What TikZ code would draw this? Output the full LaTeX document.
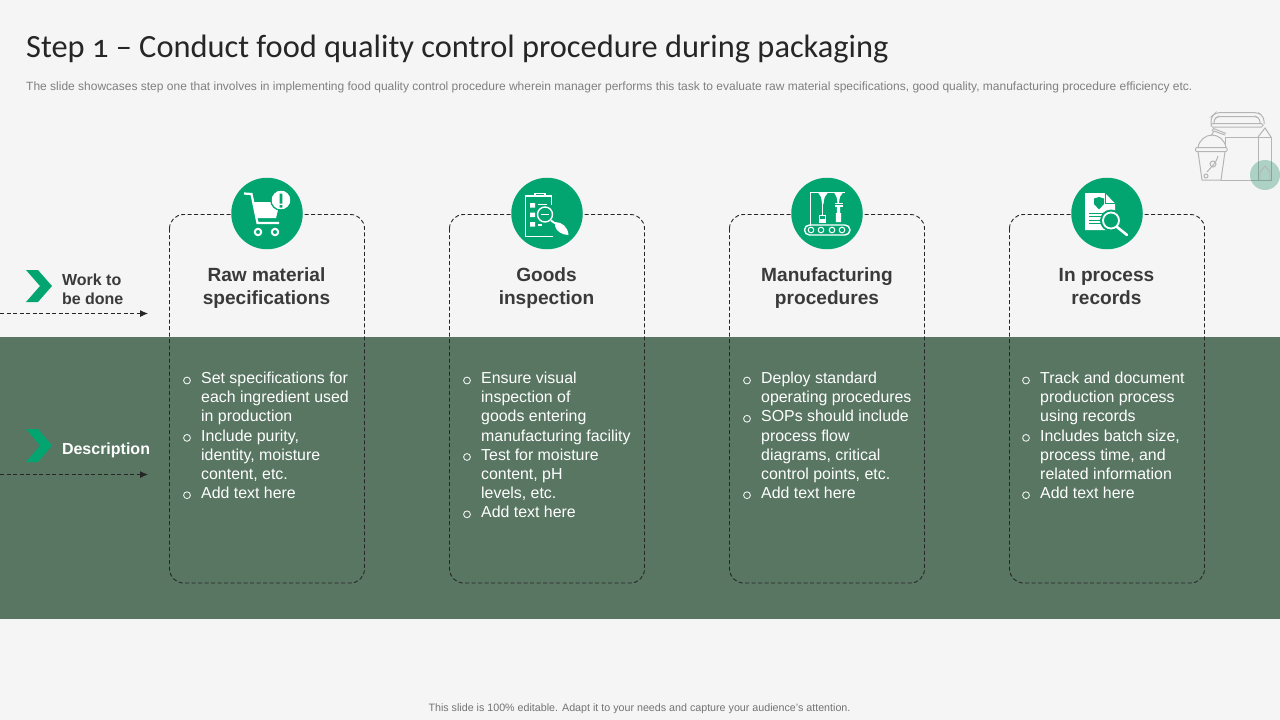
\documentclass[tikz,border=0pt]{standalone}
\usepackage{fontspec}
\setmainfont{Liberation Sans}
\newfontfamily\titlefont[Numbers=OldStyle]{Carlito}
\usetikzlibrary{arrows.meta}
\definecolor{paper}{HTML}{F5F5F5}
\definecolor{band}{HTML}{587662}
\definecolor{leaf}{HTML}{02A56F}
\definecolor{ink}{HTML}{3A3A3A}
\definecolor{sketch}{HTML}{B4B6B4}
\tikzset{
	panel/.style={draw=black!85, dash pattern=on 4pt off 2.5pt, line width=0.9pt, rounded corners=14pt},
	disc/.style={circle, fill=leaf, minimum size=71.5pt, inner sep=0pt},
	head/.style={anchor=north, align=center, text=ink, font=\fontsize{19.1}{23}\selectfont\bfseries},
	body/.style={anchor=north west, align=left, inner sep=0pt, text=white, font=\fontsize{15.9}{19.12}\selectfont},
	side/.style={anchor=west, align=left, font=\fontsize{16}{19}\selectfont\bfseries},
	flow/.style={draw=black!85, dash pattern=on 4pt off 2.5pt, line width=0.9pt, -{Latex[length=8pt,width=7pt]}},
	chev/.style={fill=leaf, draw=none},
	icon/.style={draw=white, line width=1.4pt, fill=none}
}
\begin{document}
\begin{tikzpicture}[x=1pt,y=-1pt]
	\useasboundingbox (0,0) rectangle (1280,720);
	\fill[paper] (0,0) rectangle (1280,720);
	\fill[band] (0,337) rectangle (1280,619);

	% heading
	\node[anchor=west, inner sep=0pt, text=black!85, font=\titlefont\fontsize{32.4}{38}\selectfont] (title) at (26,49) {Step 1 – Conduct food quality control procedure during packaging};
	\node[anchor=west, inner sep=0pt, text=black!50, font=\fontsize{12}{14}\selectfont] (subtitle) at (26,87.5) {The slide showcases step one that involves in implementing food quality control procedure wherein manager performs this task to evaluate raw material specifications, good quality, manufacturing procedure efficiency etc.};
	\node[text=black!55, font=\fontsize{10.7}{12}\selectfont] (foot) at (639.5,708.5) {This slide is 100\% editable. Adapt it to your needs and capture your audience's attention.};

	% side labels
	\fill[chev] (26,270) -- (38,270) -- (52,286) -- (38,302) -- (26,302) -- (40,286) -- cycle;
	\fill[chev] (26,429) -- (38,429) -- (52,445.5) -- (38,462) -- (26,462) -- (40,445.5) -- cycle;
	\node[side, text=ink] (work) at (58.5,289) {Work to\\be done};
	\node[side, text=white] (desc) at (58.5,450) {Description};
	\coordinate (workl) at (0,313.5);
	\coordinate (workr) at (148,313.5);
	\coordinate (descl) at (0,474.5);
	\coordinate (descr) at (148,474.5);
	\draw[flow] (workl) -- (workr);
	\draw[flow] (descl) -- (descr);

	% panels
	\draw[panel] (169.5,214.5) rectangle (364.5,583);
	\draw[panel] (449.5,214.5) rectangle (644.5,583);
	\draw[panel] (729.5,214.5) rectangle (924.5,583);
	\draw[panel] (1009.5,214.5) rectangle (1204.5,583);

	\node[disc] (rawdisc) at (267,213.5) {};
	\node[disc] (gooddisc) at (547,213.5) {};
	\node[disc] (manudisc) at (827,213.5) {};
	\node[disc] (procdisc) at (1107,213.5) {};

	\node[head] (rawhead) at (266.5,264) {Raw material\\specifications};
	\node[head] (goodhead) at (546.5,264) {Goods\\inspection};
	\node[head] (manuhead) at (827,264) {Manufacturing\\procedures};
	\node[head] (prochead) at (1106.5,265) {In process\\records};

	% bullets, one column at a time
	\foreach \x/\lines in {183/{0,3,6}, 463/{0,4,7}, 743/{0,2,6}, 1022/{0,3,6}}
		\foreach \n in \lines
			\draw[white!90!band, line width=0.9pt] (\x+4,{380.5+19.12*\n}) circle (3.4pt);

	\node[body] (rawtext) at (201,372) {Set specifications for\\each ingredient used\\in production\\Include purity,\\identity, moisture\\content, etc.\\Add text here};
	\node[body] (goodtext) at (481,372) {Ensure visual\\inspection of\\goods entering\\manufacturing facility\\Test for moisture\\content, pH\\levels, etc.\\Add text here};
	\node[body] (manutext) at (761,372) {Deploy standard\\operating procedures\\SOPs should include\\process flow\\diagrams, critical\\control points, etc.\\Add text here};
	\node[body] (proctext) at (1040,372) {Track and document\\production process\\using records\\Includes batch size,\\process time, and\\related information\\Add text here};

	% cart icon
	\draw[white, line width=2.2pt] (244,193.5) -- (251.5,194) -- (257.5,223) -- (279,223);
	\fill[white] (253,202) -- (280,202) -- (276,218) -- (257,218) -- cycle;
	\draw[white, line width=2pt] (258,232) circle (3.2pt) (275,232) circle (3.2pt);
	\fill[white] (281,200) circle (9.5pt);
	\draw[leaf, line width=1.3pt] (281,200) circle (10.2pt);
	\fill[leaf] (279.7,193.5) rectangle (282.3,203.5) (279.7,205) rectangle (282.3,207.5);

	% clipboard icon
	\draw[icon] (551.5,205) -- (551.5,196) -- (525.5,196) -- (525.5,236.5) -- (553,236.5);
	\draw[icon] (535,196) -- (535,193.5) -- (545,193.5) -- (545,196);
	\fill[white] (530,203) rectangle (535,207.5) (530,212.5) rectangle (535,217) (530,222) rectangle (535,226.5);
	\draw[icon] (538,204.5) -- (547,204.5) (538,225) -- (542,225);
	\draw[icon] (545,214.5) circle (7.5pt);
	\draw[white, line width=1.8pt] (541,214.5) -- (549,214.5);
	\draw[white, line width=1.8pt] (551,220.5) -- (556,224);
	\fill[white] (555,222) .. controls (562,222) and (568,227) .. (568.5,235) .. controls (562,235) and (556,231) .. (555,226) -- cycle;

	% conveyor icon
	\draw[white, line width=1.6pt] (810.5,226) -- (810.5,192.5) -- (845,192.5);
	\fill[white] (818,192.5) .. controls (821,195) and (821.5,198) .. (822,204) -- (823.5,204) .. controls (824,198) and (825,195) .. (828,192.5) -- cycle;
	\fill[white] (834,192.5) .. controls (836,195) and (837,197) .. (837.5,203) -- (839,203) .. controls (839.5,197) and (840.5,195) .. (843,192.5) -- cycle;
	\draw[white, line width=1.3pt] (822.7,204) -- (822.7,215);
	\draw[white, line width=1.2pt] (819.7,215.5) rectangle (825.5,222);
	\fill[white] (819.7,218.5) rectangle (825.5,222);
	\draw[white, line width=1.3pt] (834.5,203.5) -- (842.5,203.5) (834.5,206) -- (842.5,206);
	\fill[white] (836.8,206) rectangle (840.2,213) (835.8,213) rectangle (841.2,222);
	\draw[icon, rounded corners=5pt] (804.5,225) rectangle (850,235);
	\foreach \cx in {811,821,832,842}
		\draw[white, line width=1pt] (\cx,230) circle (2.8pt);

	% document icon
	\fill[white] (1085,193) -- (1105,193) -- (1115,203.5) -- (1115,230) -- (1085,230) -- cycle;
	\fill[leaf] (1094,198.5) -- (1099,197) -- (1104,198.5) -- (1104,204) -- (1099,209.5) -- (1094,204) -- cycle;
	\draw[leaf, line width=1pt] (1105,193) -- (1105,203.5) -- (1115,203.5);
	\draw[leaf, line width=1pt] (1089,213) -- (1103,213) (1089,216.5) -- (1101,216.5) (1089,220) -- (1101,220) (1089,223.5) -- (1101,223.5);
	\fill[leaf] (1111,220.5) circle (11pt);
	\draw[white, line width=1.8pt] (1111,220.5) circle (8pt);
	\draw[white, line width=2.6pt, line cap=round] (1117,227) -- (1127,235);

	% packaging sketch, top right
	\begin{scope}[sketch, line width=1pt]
		\draw[rounded corners=4pt] (1211,124) -- (1211,117) -- (1216,112.5) -- (1258,112.5) -- (1264,117) -- (1264,124);
		\draw[rounded corners=3pt] (1214,124) -- (1214,119) -- (1218,116.5) -- (1256,116.5) -- (1260,119) -- (1260,124);
		\draw[rounded corners=1.5pt] (1211,123.5) rectangle (1263,127);
		\draw (1225,137) -- (1258,137) -- (1258,180) -- (1271,180) -- (1271,137) -- (1258,137);
		\draw (1258,137) -- (1265,128) -- (1271,137);
		\draw (1221,180) -- (1258,180);
		\draw (1225,137) -- (1225,147);
		\draw (1211,136) -- (1214,131) -- (1225,135) (1212,131) -- (1213.5,128.5) -- (1226,133.5);
		\draw[rounded corners=1pt] (1195.5,147.5) rectangle (1227,151.5);
		\draw (1198,147.5) .. controls (1199,140) and (1206,135) .. (1212,135) .. controls (1218,135) and (1225,140) .. (1226,147.5);
		\draw (1198,151.5) -- (1202,180) -- (1221,180) -- (1225,151.5);
		\draw (1207,172) .. controls (1210,168) and (1216,164) .. (1218,156);
		\draw (1206,176) circle (2pt) (1213,164) circle (3pt);
	\end{scope}
	\fill[band!45!leaf, opacity=0.35] (1265,175) circle (15pt);
	\draw[sketch, line width=0.9pt] (1260,180) -- (1260,172) -- (1265,166) -- (1270,172) -- (1270,180);
\end{tikzpicture}
\end{document}
